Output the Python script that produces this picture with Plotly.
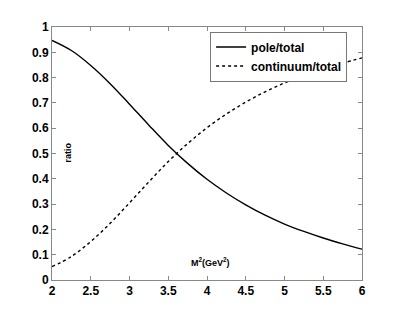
import plotly.graph_objects as go

m2 = [2.0, 2.25, 2.5, 2.75, 3.0, 3.25, 3.5, 3.75, 4.0, 4.25, 4.5, 4.75, 5.0, 5.25, 5.5, 5.75, 6.0]
pole = [0.947, 0.907, 0.848, 0.776, 0.695, 0.612, 0.532, 0.461, 0.398, 0.344, 0.297, 0.256, 0.221, 0.192, 0.166, 0.143, 0.122]
continuum = [0.053, 0.093, 0.152, 0.224, 0.305, 0.388, 0.468, 0.539, 0.602, 0.656, 0.703, 0.744, 0.779, 0.808, 0.834, 0.857, 0.878]

x_ticks = [2, 2.5, 3, 3.5, 4, 4.5, 5, 5.5, 6]
x_tick_labels = ["2", "2.5", "3", "3.5", "4", "4.5", "5", "5.5", "6"]
y_ticks = [0, 0.1, 0.2, 0.3, 0.4, 0.5, 0.6, 0.7, 0.8, 0.9, 1]
y_tick_labels = ["0", "0.1", "0.2", "0.3", "0.4", "0.5", "0.6", "0.7", "0.8", "0.9", "1"]

FONT = "Liberation Sans"

fig = go.Figure()
fig.add_trace(go.Scatter(x=m2, y=pole, mode="lines", name="<b>pole/total</b>",
                         line=dict(color="black", width=1.4, shape="spline")))
fig.add_trace(go.Scatter(x=m2, y=continuum, mode="lines", name="<b>continuum/total</b>",
                         line=dict(color="black", width=1.4, dash="3px,3px", shape="spline")))

axis_common = dict(
    showline=True, linecolor="#888888", linewidth=1, mirror="allticks",
    ticks="inside", ticklen=4, tickcolor="#888888", tickwidth=1,
    showgrid=False, zeroline=False,
    tickfont=dict(family=FONT, size=12, color="black", weight="bold"),
)

fig.update_xaxes(range=[2, 6], tickvals=x_ticks, ticktext=x_tick_labels, **axis_common)
fig.update_yaxes(range=[0, 1], tickvals=y_ticks, ticktext=y_tick_labels, **axis_common)

fig.add_annotation(text="<b>ratio</b>", xref="paper", yref="paper", x=0.032, y=0.504,
                   textangle=-90, showarrow=False,
                   font=dict(family=FONT, size=9, color="black"))
fig.add_annotation(text="<b>M<sup>2</sup>(GeV<sup>2</sup>)</b>", xref="paper", yref="paper",
                   x=0.51, y=0.039, showarrow=False,
                   font=dict(family=FONT, size=9, color="black"))

# page body has an 8px default margin, so the figure is 8px smaller than the window
fig.update_layout(
    width=392, height=308,
    margin=dict(l=44, r=38, t=16, b=36),
    plot_bgcolor="white", paper_bgcolor="white",
    legend=dict(x=0.51, y=0.982, xanchor="left", yanchor="top",
                bordercolor="#777777", borderwidth=1, bgcolor="white",
                font=dict(family=FONT, size=12, color="black"),
                itemwidth=30, tracegroupgap=0),
    showlegend=True,
)

fig.write_html("out.html")
